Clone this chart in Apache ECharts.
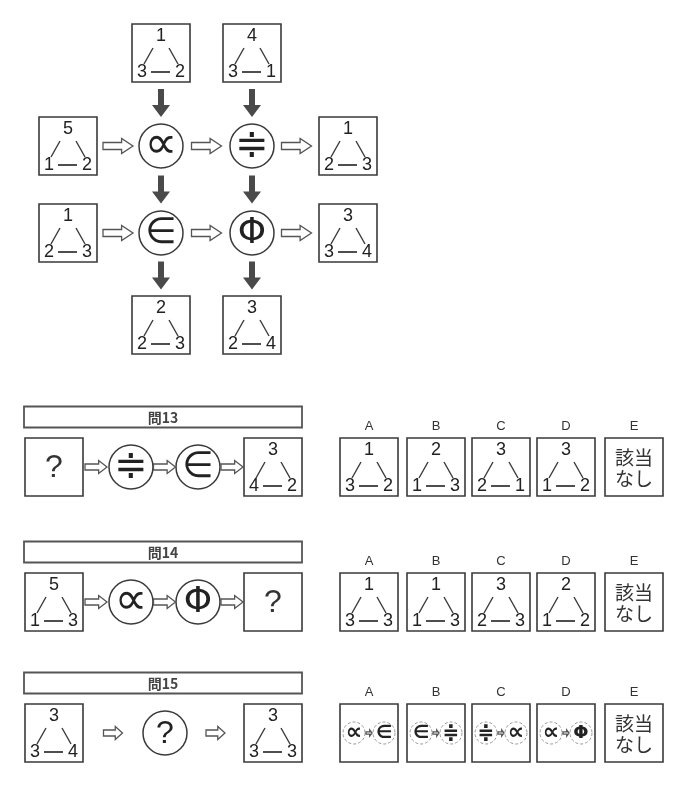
<!DOCTYPE html>
<html>
<head>
<meta charset="utf-8">
<script src="https://cdn.jsdelivr.net/npm/echarts@6/dist/echarts.min.js"></script>
<style>
html,body{margin:0;padding:0;background:#fff}
#main{width:700px;height:800px}
</style>
</head>
<body>
<div id="main"></div>
<script>
// 記号
var operators = ['∝', '≑', '∈', 'Φ'];

// 上の図  三角形の数字は [上, 左下, 右下]
var mapOps = [[0, 1], [2, 3]];
var mapInTop = [[1, 3, 2], [4, 3, 1]];
var mapInLeft = [[5, 1, 2], [1, 2, 3]];
var mapOutRight = [[1, 2, 3], [3, 3, 4]];
var mapOutBottom = [[2, 2, 3], [3, 2, 4]];

// 問題
var qTitles = ['問13', '問14', '問15'];
var q13Flow = [{box: '?'}, {op: 1}, {op: 2}, {tri: [3, 4, 2]}];
var q14Flow = [{tri: [5, 1, 3]}, {op: 0}, {op: 3}, {box: '?'}];
var q15Flow = [{tri: [3, 3, 4]}, {op: '?'}, {tri: [3, 3, 3]}];
var choiceLetters = ['A', 'B', 'C', 'D', 'E'];
var q13Choices = [[1, 3, 2], [2, 1, 3], [3, 2, 1], [3, 1, 2]];
var q14Choices = [[1, 3, 3], [1, 1, 3], [3, 2, 3], [2, 1, 2]];
var q15Choices = [[0, 2], [2, 1], [1, 0], [0, 3]];
var noneText = '該当\nなし';

// 配置
var mapColX = [68, 161, 252, 348];
var mapRowY = [53, 146, 233, 325];
var qRowY = [467, 602, 733];
var qFlowX = [[54, 131, 198, 273], [54, 131, 198, 273], [54, 165, 273]];
var choiceX = [369, 436, 501, 566, 634];

var INK = '#3a3a3a';
var NUMFONT = '"Liberation Sans", Arial, sans-serif';
var SYMFONT = '"DejaVu Sans", sans-serif';
var JPFONT = '"Noto Sans CJK JP", sans-serif';
// 記号ごとの字の大きさと上下のずれ (円の半径 22 のとき)
var symSize = [46, 40, 36, 36];
var symShift = [0, 1, 1, 1];

var boxItems = [], opItems = [], downArrows = [], sideArrows = [],
    headItems = [], letterItems = [], pairItems = [];

// 上の図
for (var c = 0; c < 2; c++) {
    boxItems.push({x: mapColX[c + 1], y: mapRowY[0], nums: mapInTop[c]});
    boxItems.push({x: mapColX[c + 1], y: mapRowY[3], nums: mapOutBottom[c]});
}
for (var r = 0; r < 2; r++) {
    boxItems.push({x: mapColX[0], y: mapRowY[r + 1], nums: mapInLeft[r]});
    boxItems.push({x: mapColX[3], y: mapRowY[r + 1], nums: mapOutRight[r]});
    for (var c = 0; c < 2; c++) {
        opItems.push({x: mapColX[c + 1], y: mapRowY[r + 1], op: mapOps[r][c], r: 22});
    }
}
for (var c = 0; c < 2; c++) {
    for (var k = 0; k < 3; k++) {
        var y1 = mapRowY[k] + (k == 0 ? 29 : 22);
        var y2 = mapRowY[k + 1] - (k + 1 == 3 ? 29 : 22);
        downArrows.push({x: mapColX[c + 1], y: (y1 + y2) / 2});
    }
}
for (var r = 0; r < 2; r++) {
    for (var k = 0; k < 3; k++) {
        var x1 = mapColX[k] + (k == 0 ? 29 : 22);
        var x2 = mapColX[k + 1] - (k + 1 == 3 ? 29 : 22);
        sideArrows.push({x: (x1 + x2) / 2, y: mapRowY[r + 1], len: 30});
    }
}

// 問題
var qFlows = [q13Flow, q14Flow, q15Flow];
var qChoices = [q13Choices, q14Choices, q15Choices];
for (var q = 0; q < 3; q++) {
    var y = qRowY[q];
    headItems.push({x: 163, y: y - 50, text: qTitles[q]});
    var flow = qFlows[q];
    for (var i = 0; i < flow.length; i++) {
        var f = flow[i], x = qFlowX[q][i];
        if (f.tri) boxItems.push({x: x, y: y, nums: f.tri});
        else if (f.box) boxItems.push({x: x, y: y, label: f.box, size: 32});
        else opItems.push({x: x, y: y, r: 22, op: f.op});
        if (i > 0) {
            var a = qFlowX[q][i - 1] + (flow[i - 1].op !== undefined ? 22 : 29);
            var b = x - (f.op !== undefined ? 22 : 29);
            sideArrows.push({x: (a + b) / 2, y: y, len: q < 2 ? 22 : 19});
        }
    }
    for (var i = 0; i < 5; i++) {
        letterItems.push({x: choiceX[i], y: y - 41, text: choiceLetters[i]});
        if (i == 4) boxItems.push({x: choiceX[i], y: y, label: noneText, size: 19});
        else if (q < 2) boxItems.push({x: choiceX[i], y: y, nums: qChoices[q][i]});
        else pairItems.push({x: choiceX[i], y: y, ops: qChoices[q][i]});
    }
}

function txt(x, y, s, size, font, extra) {
    var st = {text: s, fontSize: size, fontFamily: font, fill: '#222', align: 'center', verticalAlign: 'middle'};
    for (var k in extra) st[k] = extra[k];
    return {type: 'text', x: x, y: y, style: st};
}
function seg(x1, y1, x2, y2, w) {
    return {type: 'line', shape: {x1: x1, y1: y1, x2: x2, y2: y2}, style: {stroke: INK, lineWidth: w || 1.4}};
}
function frame(x, y, h) {
    return {type: 'rect', shape: {x: x - h, y: y - h, width: 2 * h, height: 2 * h},
        style: {fill: '#fff', stroke: INK, lineWidth: 1.6}};
}
function hollow(x, y, len, s, hh) {
    var h2 = len / 2, hl = len * 0.38;
    return {type: 'polygon', shape: {points: [
        [x - h2, y - s], [x + h2 - hl, y - s], [x + h2 - hl, y - hh], [x + h2, y],
        [x + h2 - hl, y + hh], [x + h2 - hl, y + s], [x - h2, y + s]]},
        style: {fill: '#fff', stroke: '#555', lineWidth: 1.3}};
}
function symbol(x, y, op, r) {
    if (typeof op != 'number') return txt(x, y + 1, op, 32, NUMFONT);
    var k = r / 22;
    return txt(x, y + symShift[op] * k, operators[op], symSize[op] * k, SYMFONT,
        {fontWeight: k < 1 ? 'bold' : 'normal'});
}

function layer(items, draw) {
    return {
        type: 'custom', silent: true, clip: false,
        data: items.map(function (d) { return [d.x, d.y]; }),
        renderItem: function (params, api) {
            var d = items[params.dataIndex];
            var p = api.coord([d.x, d.y]);
            return {type: 'group', children: draw(d, p[0], p[1])};
        }
    };
}

var chart = echarts.init(document.getElementById('main'));
chart.setOption({
    animation: false,
    backgroundColor: '#fff',
    grid: {left: 0, right: 0, top: 0, bottom: 0},
    xAxis: {type: 'value', min: 0, max: 700, show: false},
    yAxis: {type: 'value', min: 0, max: 800, inverse: true, show: false},
    series: [
        layer(headItems, function (d, x, y) {
            return [
                {type: 'rect', shape: {x: x - 139, y: y - 10.5, width: 278, height: 21},
                    style: {fill: '#fff', stroke: '#555', lineWidth: 1.8}},
                txt(x, y + 1, d.text, 14, JPFONT, {fontWeight: 'bold', fill: '#444'})
            ];
        }),
        layer(boxItems, function (d, x, y) {
            var out = [frame(x, y, 29)];
            if (d.nums) {
                out.push(txt(x, y - 17, String(d.nums[0]), 18, NUMFONT));
                out.push(txt(x - 19, y + 19, String(d.nums[1]), 18, NUMFONT));
                out.push(txt(x + 19, y + 19, String(d.nums[2]), 18, NUMFONT));
                out.push(seg(x - 8, y - 5, x - 17, y + 11));
                out.push(seg(x + 8, y - 5, x + 17, y + 11));
                out.push(seg(x - 10, y + 19, x + 9, y + 19, 1.8));
            } else {
                out.push(txt(x, y + 1, d.label, d.size, d.size > 20 ? NUMFONT : JPFONT,
                    {lineHeight: 21, fill: '#333'}));
            }
            return out;
        }),
        layer(opItems, function (d, x, y) {
            return [
                {type: 'circle', shape: {cx: x, cy: y, r: d.r},
                    style: {fill: '#fff', stroke: INK, lineWidth: 1.5}},
                symbol(x, y, d.op, d.r)
            ];
        }),
        layer(downArrows, function (d, x, y) {
            return [{type: 'polygon', shape: {points: [
                [x - 3, y - 14], [x + 3, y - 14], [x + 3, y + 2], [x + 9, y + 2],
                [x, y + 14], [x - 9, y + 2], [x - 3, y + 2]]},
                style: {fill: '#4a4a4a'}}];
        }),
        layer(sideArrows, function (d, x, y) {
            return d.len > 25 ? [hollow(x, y, d.len, 3.5, 7.5)] : [hollow(x, y, d.len, 3, 6.5)];
        }),
        layer(letterItems, function (d, x, y) {
            return [txt(x, y, d.text, 13, NUMFONT, {fill: '#333'})];
        }),
        layer(pairItems, function (d, x, y) {
            var out = [frame(x, y, 29)];
            [x - 15, x + 15].forEach(function (cx, j) {
                out.push({type: 'circle', shape: {cx: cx, cy: y, r: 11},
                    style: {fill: '#fff', stroke: '#999', lineWidth: 1, lineDash: [3, 2]}});
                out.push(symbol(cx, y, d.ops[j], 11));
            });
            out.push(hollow(x, y, 6, 1.2, 3));
            return out;
        })
    ]
});
</script>
</body>
</html>
